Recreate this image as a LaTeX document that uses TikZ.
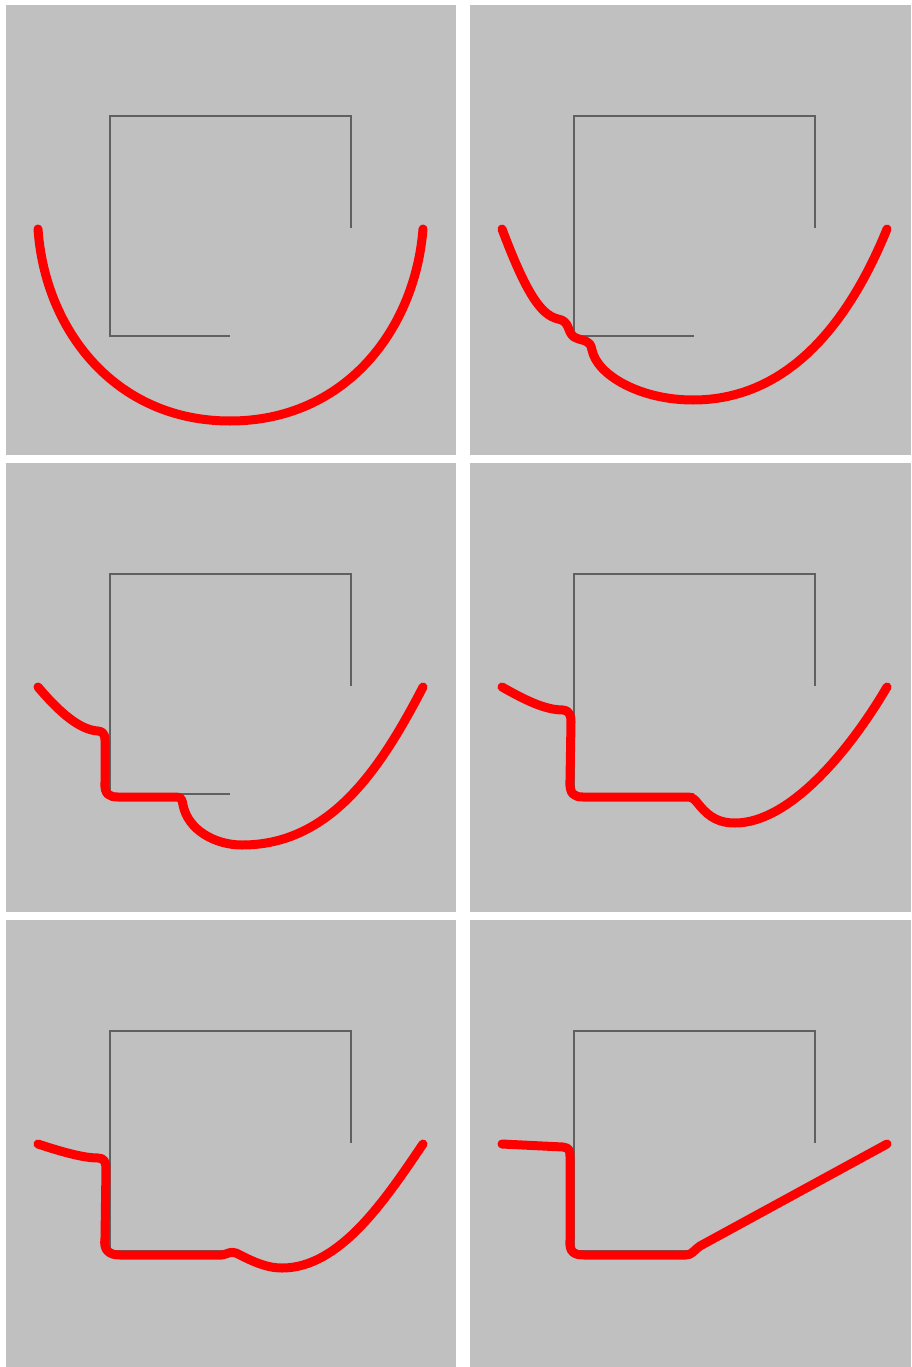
\documentclass[tikz,border=0pt]{standalone}
\begin{document}
\begin{tikzpicture}[x=1pt,y=-1pt,
  panel/.style={fill={rgb,255:red,192;green,192;blue,192}, draw=none},
  frame/.style={draw={rgb,255:red,96;green,96;blue,96}, line width=1.8pt},
  curve/.style={draw={rgb,255:red,255;green,0;blue,0}, line width=9pt, line cap=round, line join=round}]
\path[use as bounding box, fill=white] (0,0) rectangle (911,1367);
% panels
\foreach \px/\py/\qx/\qy in {6/5/456/455, 470/5/911/455, 6/463/456/912, 470/463/911/912, 6/920/456/1367, 470/920/911/1367}{
  \path[panel] (\px,\py) rectangle (\qx,\qy);
  \draw[frame] ({\px+224},{\py+331}) -- ({\px+104},{\py+331}) -- ({\px+104},{\py+111}) -- ({\px+345},{\py+111}) -- ({\px+345},{\py+223});
}
% panel 1
\draw[curve] (38,229) .. controls (45,330) and (115,421) .. (230,421)
  .. controls (345,421) and (415,330) .. (423,229);
% panel 2
\draw[curve] (502,229) .. controls (525,290) and (540,315) .. (558,319)
  .. controls (570,321) and (567,332) .. (574,337)
  .. controls (584,342) and (590,339) .. (592,350)
  .. controls (597,375) and (640,400) .. (693,400)
  .. controls (790,400) and (850,320) .. (887,229);
% panel 3
\draw[curve] (38,687) .. controls (60,713) and (80,730) .. (98,731)
  .. controls (106,732) and (105,738) .. (105,745) -- (105,782)
  .. controls (104,795) and (110,797) .. (118,797) -- (175,797)
  .. controls (182,797) and (182,800) .. (183,805)
  .. controls (188,830) and (215,845) .. (242,845)
  .. controls (330,845) and (380,770) .. (423,687);
% panel 4
\draw[curve] (502,687) .. controls (525,700) and (545,710) .. (563,710)
  .. controls (570,711) and (571,716) .. (571,722) -- (570,780)
  .. controls (569,795) and (575,797) .. (583,797) -- (688,797)
  .. controls (693,797) and (695,800) .. (700,806)
  .. controls (710,818) and (720,823) .. (735,823)
  .. controls (790,823) and (850,750) .. (887,687);
% panel 5
\draw[curve] (38,1144) .. controls (65,1153) and (85,1158) .. (98,1158)
  .. controls (104,1158) and (106,1162) .. (106,1168) -- (105,1238)
  .. controls (103,1251) and (110,1255) .. (120,1255) -- (222,1255)
  .. controls (228,1254) and (230,1251) .. (236,1253)
  .. controls (250,1260) and (265,1268) .. (282,1268)
  .. controls (340,1268) and (385,1200) .. (423,1144);
% panel 6
\draw[curve] (502,1144) -- (563,1147)
  .. controls (569,1148) and (570,1150) .. (570,1156) -- (570,1240)
  .. controls (569,1252) and (574,1255) .. (584,1255) -- (686,1255)
  .. controls (692,1255) and (694,1250) .. (700,1246) -- (887,1144);
\end{tikzpicture}
\end{document}
